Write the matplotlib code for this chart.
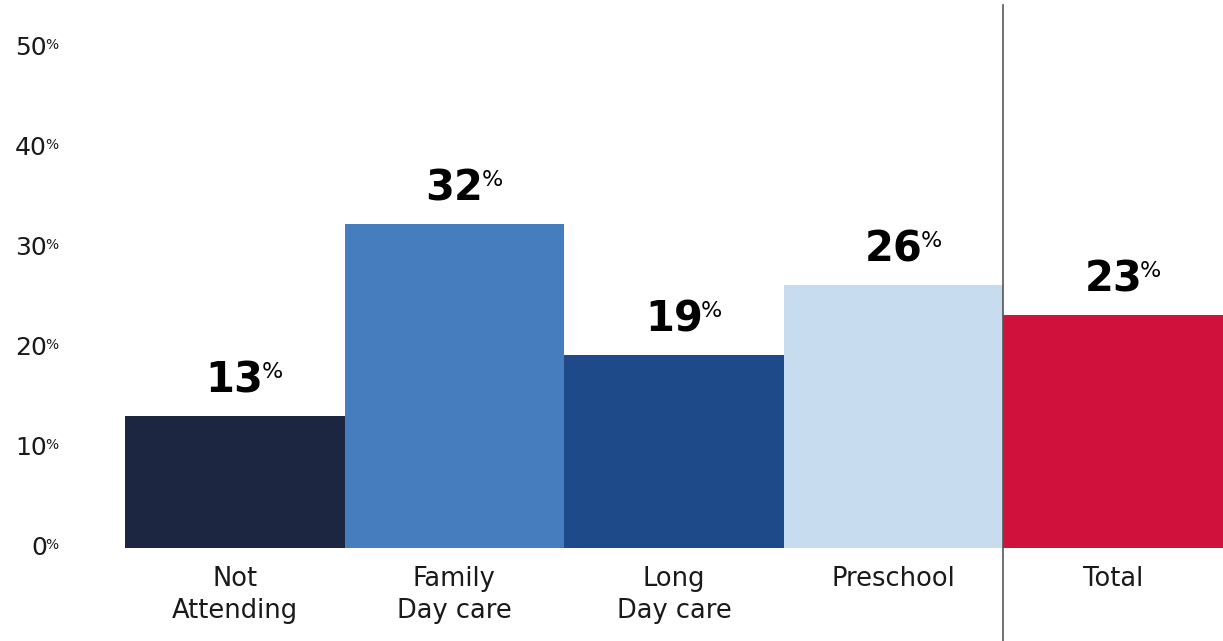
import matplotlib
matplotlib.use('Agg')
import matplotlib.pyplot as plt
import matplotlib.transforms as mtransforms

# datos
categorias = ['Not\nAttending', 'Family\nDay care', 'Long\nDay care', 'Preschool', 'Total']
valores = [13.2, 32.4, 19.3, 26.3, 23.3]
etiquetas = ['13', '32', '19', '26', '23']
colores = ['#1c2640', '#457dbf', '#1f4a8a', '#c7dcef', '#cf113b']
ticks_y = [0, 10, 20, 30, 40, 50]

plt.rcParams['font.family'] = ['DejaVu Sans']

fig = plt.figure(figsize=(12.23, 6.41), dpi=100)
ax = fig.add_axes([125 / 1223, 93 / 641, 1098 / 1223, 548 / 641])

x = list(range(len(categorias)))
ax.bar(x, valores, width=1.0, color=colores, linewidth=0)
ax.set_xlim(-0.5, len(categorias) - 0.5)
ax.set_ylim(0, 54.8)

for s in ax.spines.values():
    s.set_visible(False)

ax.set_xticks(x)
ax.set_xticklabels(categorias, fontsize=18.5, color='#1a1a1a', linespacing=1.32)
ax.tick_params(axis='x', length=0, pad=13)
ax.set_yticks([])

# etiquetas del eje y con % pequeño
trans = mtransforms.blended_transform_factory(fig.transFigure, ax.transData)
for t in ticks_y:
    num = ax.text(47 / 1223, t, str(t), transform=trans, ha='right', va='center',
                  fontsize=18, color='#1a1a1a')
    ax.annotate('%', xy=(1, 1), xycoords=num, xytext=(-1.5, -1.5), textcoords='offset points',
                ha='left', va='top', fontsize=10, color='#1a1a1a')

# etiquetas de valor sobre las barras
for xi, v, lab in zip(x, valores, etiquetas):
    num = ax.annotate(lab, xy=(xi, v), xytext=(0, 17), textcoords='offset points',
                      ha='center', va='baseline', fontsize=30, fontweight='bold', color='black')
    ax.annotate('%', xy=(1, 1), xycoords=num, xytext=(-1.5, -2), textcoords='offset points',
                ha='left', va='top', fontsize=16, color='black')

# linea separadora antes de Total
sep = mtransforms.blended_transform_factory(ax.transData, fig.transFigure)
ax.plot([3.5, 3.5], [0, 636 / 641], transform=sep, color='#555555', linewidth=1.2, clip_on=False)

fig.savefig('out.png', dpi=100, facecolor='white')
